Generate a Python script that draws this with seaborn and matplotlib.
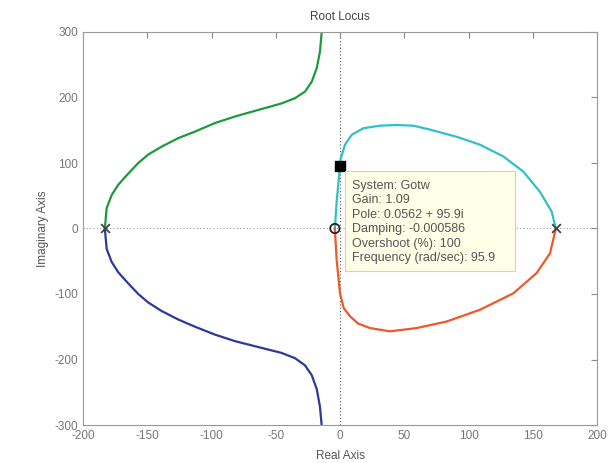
import matplotlib
matplotlib.use("Agg")
import matplotlib.pyplot as plt
import seaborn as sns
import pandas as pd
from matplotlib.patches import Rectangle

# Branch data
green_x = [-183, -181.6, -177.7, -172.5, -164.7, -157, -149.2, -138.8, -125.8, -112.8, -97.3,
           -81.7, -63.6, -45.4, -35, -27.2, -22, -18.1, -15.6, -14.2]
green_y = [0, 31, 51, 67, 84, 100, 113, 125, 138, 148, 161,
           171, 181, 191, 199, 209, 224, 245, 270, 301]
blue_x = [-183, -181.6, -177.7, -172.5, -164.7, -157, -149.2, -138.8, -125.8, -112.8, -97.3,
          -81.7, -63.6, -45.4, -35, -27.2, -22, -18.1, -15.6, -14.2]
blue_y = [0, -31, -51, -67, -84, -100, -113, -126, -139, -150, -162,
          -172, -181, -190, -198, -209, -224, -245, -272, -302]
cyan_x = [-4, -2.6, 0.06, 0.6, 3.9, 9.1, 18.1, 31.1, 44.1, 57, 70, 90.8, 108.9, 127.1,
          142.6, 155.6, 164.7, 168]
cyan_y = [0, 41, 96, 107, 128, 143, 153, 157, 158, 157, 151, 140, 128, 110,
          87, 56, 26, 0]
red_x = [-4, -2.6, 0, 3, 7.8, 14, 23.3, 38.9, 59.7, 83, 109, 134.9, 153, 163.4, 168]
red_y = [0, -48, -99, -122, -134, -145, -152, -157, -152, -142, -124, -99, -68, -38, 0]

poles_x = [-183, 168]
zeros_x = [-4]
tip_x, tip_y = [0.0562], [95.9]
tip_lines = ["System: Gotw", "Gain: 1.09", "Pole: 0.0562 + 95.9i",
             "Damping: -0.000586", "Overshoot (%): 100",
             "Frequency (rad/sec): 95.9"]

xticks = [-200, -150, -100, -50, 0, 50, 100, 150, 200]
yticks = [-300, -200, -100, 0, 100, 200, 300]

sns.set_style("white")
plt.rcParams['font.family'] = ['Liberation Sans', 'DejaVu Sans']
plt.rcParams['axes.unicode_minus'] = False

fig = plt.figure(figsize=(6.16, 4.63), dpi=100)
ax = fig.add_axes([83/616, 1-425/463, (597-83)/616, (425-32)/463])

branches = [
    (green_x, green_y, "#1e9a3c"),
    (blue_x, blue_y, "#2a3a9c"),
    (cyan_x, cyan_y, "#2fc0c8"),
    (red_x, red_y, "#f0582a"),
]
for bx, by, col in branches:
    df = pd.DataFrame({"x": bx, "y": by})
    sns.lineplot(data=df, x="x", y="y", sort=False, estimator=None,
                 color=col, lw=1.6, ax=ax)

ax.axvline(0, color="#555555", ls=(0, (1, 2)), lw=0.8, zorder=0)
ax.axhline(0, color="#999999", ls=(0, (1, 2)), lw=0.8, zorder=0)

ax.scatter(poles_x, [0]*len(poles_x), marker="x", s=40, color="#444444", lw=1.3, zorder=5)
ax.scatter(zeros_x, [0]*len(zeros_x), marker="o", s=45, facecolor="none",
           edgecolor="#222222", lw=1.3, zorder=5)
ax.scatter(tip_x, tip_y, marker="s", s=55, color="black", zorder=6)

ax.add_patch(Rectangle((4, -65), 132, 153, facecolor="#ffffe8",
                       edgecolor="#d4d4b8", lw=0.8, zorder=7))
line_y0, line_dy = 65.6, -22.2
for i, t in enumerate(tip_lines):
    ax.text(9.1, line_y0 + i*line_dy, t, va="center", ha="left", fontsize=9,
            color="#555555", zorder=8)

ax.set_xlim(-200, 200)
ax.set_ylim(-300, 300)
ax.set_xticks(xticks)
ax.set_yticks(yticks)
ax.tick_params(direction="in", length=4, colors="#888888", labelsize=8.5,
               top=True, right=True, labelcolor="#777777")
for s in ax.spines.values():
    s.set_color("#999999")
    s.set_linewidth(0.8)
ax.set_xlabel("Real Axis", fontsize=8.5, color="#555555", labelpad=6)
ax.set_ylabel("Imaginary Axis", fontsize=8.5, color="#555555", labelpad=4)
ax.set_title("Root Locus", fontsize=8.5, color="#444444", pad=9)

fig.savefig("out.png", dpi=100)
